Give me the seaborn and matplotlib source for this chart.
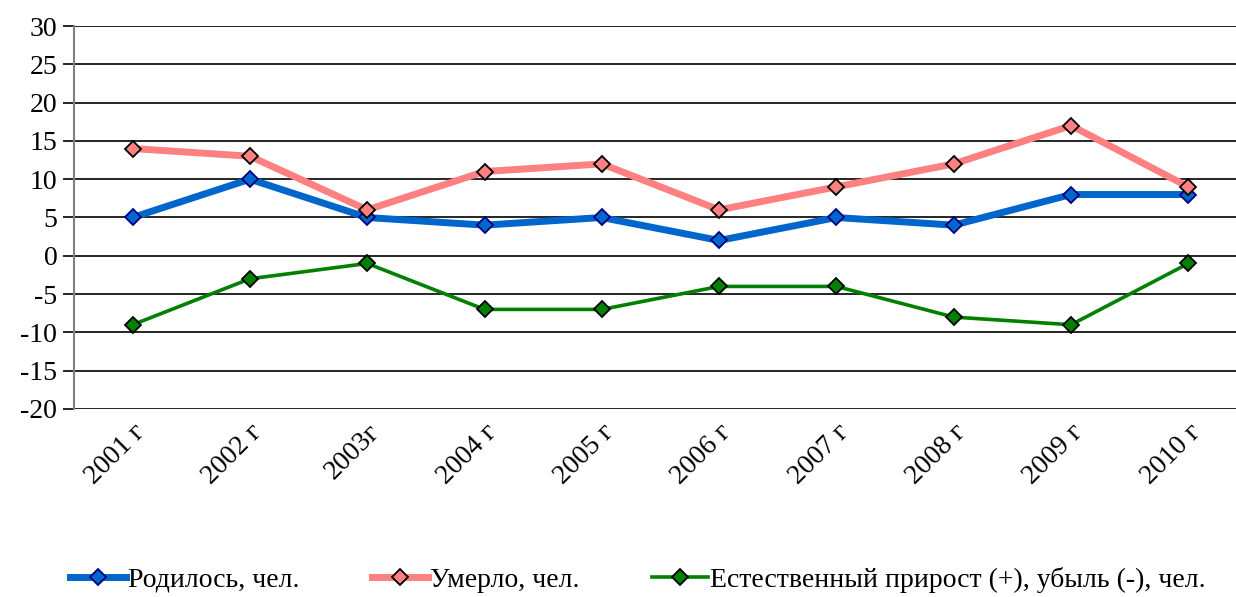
import matplotlib
matplotlib.use("Agg")
import matplotlib.pyplot as plt
import seaborn as sns
import pandas as pd

years = ["2001 г", "2002 г", "2003г", "2004 г", "2005 г", "2006 г", "2007 г", "2008 г", "2009 г", "2010 г"]
born = [5, 10, 5, 4, 5, 2, 5, 4, 8, 8]
died = [14, 13, 6, 11, 12, 6, 9, 12, 17, 9]
growth = [-9, -3, -1, -7, -7, -4, -4, -8, -9, -1]
series_names = ["Родилось, чел.", "Умерло, чел.", "Естественный прирост (+), убыль (-), чел."]
y_ticks = list(range(-20, 31, 5))

plt.rcParams["font.family"] = "Liberation Serif"
FONT = "Liberation Serif"

fig = plt.figure(figsize=(12.36, 5.97), dpi=100)
ax = fig.add_axes([74 / 1236, 1 - 409 / 597, (1247 - 74) / 1236, (409 - 26) / 597])
ax.set_facecolor("white")

pos = list(range(len(years)))
styles = [
    (born, "#0066CC", 5.0, "#000080"),
    (died, "#FF8080", 5.0, "#000000"),
    (growth, "#008000", 2.6, "#000000"),
]
for (vals, col, lw, ec), name in zip(styles, series_names):
    df = pd.DataFrame({"x": pos, "y": vals})
    sns.lineplot(data=df, x="x", y="y", ax=ax, color=col, linewidth=lw,
                 marker="D", markersize=8, markerfacecolor=col,
                 markeredgecolor=ec, markeredgewidth=1.3, label=name, sort=False)

ax.set_xlim(-0.5, 9.5)
ax.set_ylim(-20, 30)
ax.set_yticks(y_ticks)
ax.set_yticklabels([str(v) for v in y_ticks], family=FONT, fontsize=20, color="black")
ax.yaxis.grid(True, color="black", linewidth=1.2)
ax.xaxis.grid(False)
ax.set_axisbelow(True)
ax.set_xticks(pos)
ax.set_xticklabels(years, family=FONT, fontsize=20, color="black", rotation=45,
                   ha="right", va="top", rotation_mode="anchor")
ax.tick_params(axis="y", which="major", left=True, direction="out", length=8, width=1.2,
               color="black", pad=4)
ax.tick_params(axis="x", which="major", bottom=False, pad=4)
ax.set_xlabel("")
ax.set_ylabel("")
for s in ["top", "right", "bottom"]:
    ax.spines[s].set_visible(False)
ax.spines["left"].set_color("#808080")
ax.spines["left"].set_linewidth(1.5)

ax.legend_.remove()
handles, labels = ax.get_legend_handles_labels()
leg = fig.legend(handles, labels, loc="center left", bbox_to_anchor=(70 / 1236, 1 - 580 / 597),
                 ncol=3, frameon=False, prop={"family": FONT, "size": 20},
                 handlelength=2.0, handletextpad=0.1,
                 columnspacing=2.6, borderaxespad=0, borderpad=0)

fig.savefig("out.png", dpi=100, facecolor="white")
